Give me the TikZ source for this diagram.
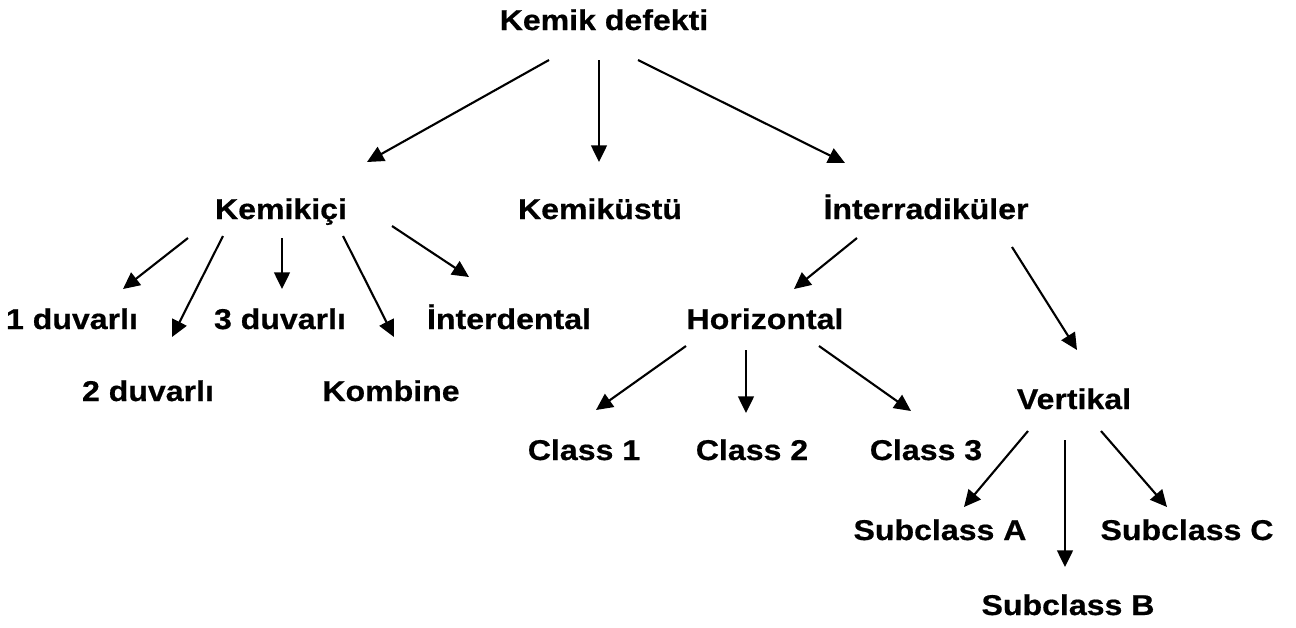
\documentclass[tikz,border=0pt]{standalone}
\usepackage{fontspec}
\setmainfont{Liberation Sans}[FakeStretch=1.12,FakeBold=0.6]
\usepackage{tikz}
\usetikzlibrary{arrows.meta}
\tikzstyle{arrow} = [
    line width=1.2pt,
    -{Triangle[length=9.5pt,width=9pt]},
    draw=black
]

\begin{document}
\begin{tikzpicture}[
    x=0.02cm,
    y=-0.02cm,
    every node/.style={
        inner sep=0pt,
        anchor=base,
        font=\fontsize{16.3}{19}\selectfont\bfseries
    }
]
\useasboundingbox (0,0) rectangle (1296,627);
% Nodes
\node (kd) at (604,30) {Kemik defekti};
\node (kici) at (281,219) {Kemikiçi};
\node (kust) at (600,219) {Kemiküstü};
\node (inter) at (926,219) {İnterradiküler};
\node (d1) at (72,329) {1 duvarlı};
\node (d3) at (280,329) {3 duvarlı};
\node (idental) at (509,329) {İnterdental};
\node (horiz) at (765,329) {Horizontal};
\node (d2) at (148,401) {2 duvarlı};
\node (komb) at (391,401) {Kombine};
\node (vert) at (1074,409) {Vertikal};
\node (c1) at (584,460) {Class 1};
\node (c2) at (752,460) {Class 2};
\node (c3) at (926,460) {Class 3};
\node (sa) at (940,540) {Subclass A};
\node (sc) at (1187,540) {Subclass C};
\node (sb) at (1068,615) {Subclass B};

% Arrows
\foreach \from/\fs/\to/\ts in {
    kd/{-55,30}/kici/{86,-57}, kd/{-5,30}/kust/{-1,-57}, kd/{34,30}/inter/{-81,-56},
    kici/{-93,19}/d1/{51,-40}, kici/{-58,17}/d2/{24,-64}, kici/{1,19}/d3/{2,-40},
    kici/{62,17}/komb/{3,-64}, kici/{111,7}/idental/{-40,-52},
    inter/{-69,19}/horiz/{29,-40}, inter/{86,28}/vert/{3,-59},
    horiz/{-79,17}/c1/{12,-50}, horiz/{-19,21}/c2/{-6,-47}, horiz/{54,17}/c3/{-15,-49},
    vert/{-46,22}/sa/{24,-33}, vert/{-9,31}/sb/{-3,-48}, vert/{27,22}/sc/{-20,-33}} {
    \draw[arrow] ([shift={(\fs)}]\from.base) -- ([shift={(\ts)}]\to.base);
}
\end{tikzpicture}
\end{document}
